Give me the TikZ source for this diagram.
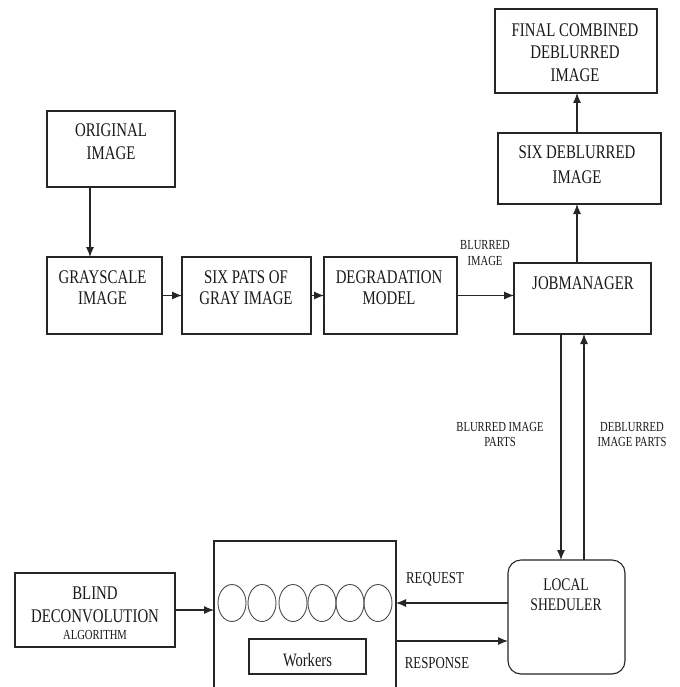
\documentclass[tikz,border=0pt]{standalone}
\usepackage{fontspec}
\setmainfont[FakeStretch=0.77]{Liberation Serif}
\usetikzlibrary{arrows.meta,shapes.geometric}
\begin{document}
\begin{tikzpicture}[x=1pt,y=-1pt,
  box/.style={draw=black!85, line width=1.1pt, inner sep=0pt, outer sep=0pt},
  txt/.style={inner sep=0pt, align=center, text=black!90, font=\fontsize{19.3}{23}\selectfont},
  lbl/.style={inner sep=0pt, align=center, text=black!90, font=\fontsize{13.8}{15.5}\selectfont},
  mid/.style={inner sep=0pt, align=center, text=black!90, font=\fontsize{16.7}{20}\selectfont},
  arr/.style={draw=black!85, line width=1.1pt, -{Latex[length=10pt,width=8pt]}},
  ln/.style={draw=black!85, line width=1.1pt},
  ell/.style={ellipse, draw=black!70, line width=0.9pt, minimum width=28pt, minimum height=37pt, inner sep=0pt}]
\fill[white] (0,0) rectangle (679,687);
\useasboundingbox (0,0) rectangle (679,687);

% boxes
\node[box, minimum width=128pt, minimum height=76pt] (orig) at (111,149) {};
\node[box, minimum width=115pt, minimum height=77pt] (gray) at (104.5,295.5) {};
\node[box, minimum width=129pt, minimum height=77pt] (six) at (246.5,295.5) {};
\node[box, minimum width=133pt, minimum height=77pt] (degr) at (390.5,295.5) {};
\node[box, minimum width=137pt, minimum height=71pt] (jm) at (582.5,298.5) {};
\node[box, minimum width=163pt, minimum height=71pt] (sixdeb) at (579.5,168.5) {};
\node[box, minimum width=162pt, minimum height=84pt] (final) at (576,51) {};
\node[box, rounded corners=13pt, minimum width=117pt, minimum height=114pt] (local) at (566.5,617) {};
\node[box, minimum width=160pt, minimum height=74pt] (blind) at (95,610) {};
\node[inner sep=0pt, outer sep=0pt, minimum width=182pt, minimum height=146pt] (workers) at (305,614) {};
\draw[ln] (workers.south west) -- (workers.north west) -- (workers.north east) -- (workers.south east);
\node[box, minimum width=117pt, minimum height=35pt] (wk) at (307.5,656.5) {};

% worker circles
\node[ell] (w1) at (232,603) {};
\node[ell] (w2) at (262,603) {};
\node[ell] (w3) at (293,603) {};
\node[ell] (w4) at (322,603) {};
\node[ell] (w5) at (350,603) {};
\node[ell] (w6) at (378,603) {};

% texts
\node[txt, font=\fontsize{19.3}{23}\selectfont] (torig) at (111,141.5) {ORIGINAL\\IMAGE};
\node[txt, font=\fontsize{19.3}{21}\selectfont] (tgray) at (102.5,287.5) {GRAYSCALE\\IMAGE};
\node[txt, font=\fontsize{19.3}{21}\selectfont] (tsix) at (246,287.5) {SIX PATS OF\\GRAY IMAGE};
\node[txt, font=\fontsize{19.3}{21}\selectfont] (tdegr) at (389,287.5) {DEGRADATION\\MODEL};
\node[txt] (tjm) at (583,283) {JOBMANAGER};
\node[txt, font=\fontsize{19.3}{25}\selectfont] (tsixdeb) at (577,164.5) {SIX DEBLURRED\\IMAGE};
\node[txt, font=\fontsize{19.3}{22.5}\selectfont] (tfinal) at (575,52.5) {FINAL COMBINED\\DEBLURRED\\IMAGE};
\node[txt, font=\fontsize{17.7}{20}\selectfont] (tlocal) at (566,595) {LOCAL\\SHEDULER};
\node[txt] (tblind) at (95,604.5) {BLIND\\DECONVOLUTION};
\node[lbl] (talgo) at (95,635) {ALGORITHM};
\node[txt, font=\fontsize{18.9}{22}\selectfont] (twk) at (307.5,660) {Workers};

% labels
\node[lbl] (lblur) at (485,253) {BLURRED\\IMAGE};
\node[lbl, font=\fontsize{13.8}{15}\selectfont] (lbparts) at (500,434.5) {BLURRED IMAGE\\PARTS};
\node[lbl, font=\fontsize{13.8}{15}\selectfont] (ldparts) at (632,434.5) {DEBLURRED\\IMAGE PARTS};
\node[mid, anchor=base] (lreq) at (435,583.5) {REQUEST};
\node[mid] (lresp) at (437,663) {RESPONSE};

% helper coordinates
\coordinate (c90) at (90,0);
\coordinate (c577) at (577,0);
\coordinate (cdown) at (561,0);
\coordinate (cup) at (584,0);
\coordinate (creq) at (0,603);
\coordinate (cresp) at (0,641);

% connectors
\draw[arr] (orig.south -| c90) -- (gray.north -| c90);
\draw[arr] (gray.east) -- (six.west);
\draw[arr] (six.east) -- (degr.west);
\draw[arr] (degr.east) -- (degr.east -| jm.west);
\draw[arr] (jm.north -| c577) -- (sixdeb.south -| c577);
\draw[arr] (sixdeb.north -| c577) -- (final.south -| c577);
\draw[arr] (jm.south -| cdown) -- (local.north -| cdown);
\draw[arr] (local.north -| cup) -- (jm.south -| cup);
\draw[arr] (local.west |- creq) -- (workers.east |- creq);
\draw[arr] (workers.east |- cresp) -- (local.west |- cresp);
\draw[arr] (blind.east) -- (blind.east -| workers.west);
\end{tikzpicture}
\end{document}
